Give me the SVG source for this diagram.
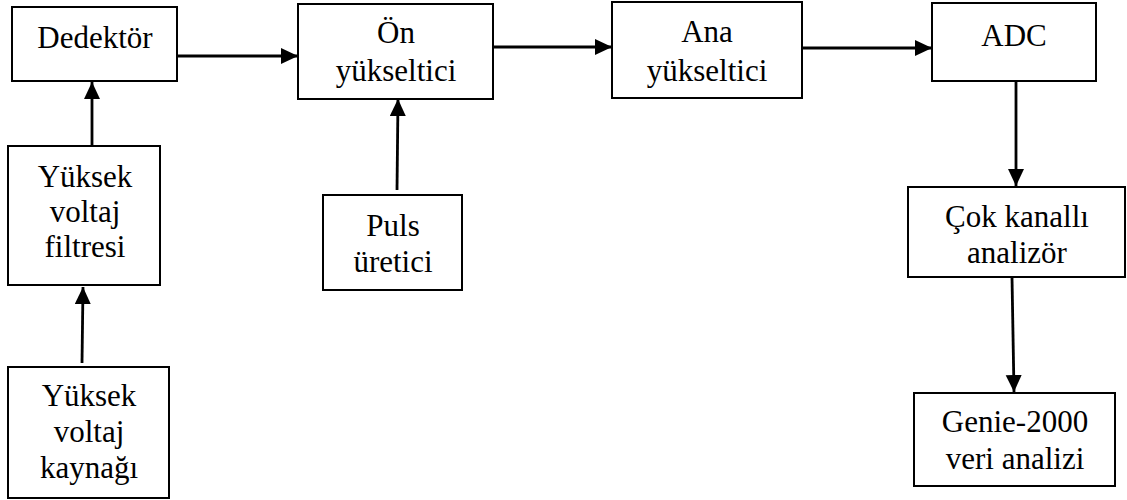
<svg xmlns="http://www.w3.org/2000/svg" width="1127" height="500" viewBox="0 0 1127 500">
<style>
.box{fill:#fff;stroke:#000;stroke-width:2}
.lbl{font-family:"Liberation Serif","Times New Roman",serif;font-size:31px;fill:#000;text-anchor:middle}
.conn{stroke:#000;stroke-width:2.8;fill:none;marker-end:url(#ah)}
</style>
<defs>
<marker id="ah" markerUnits="userSpaceOnUse" markerWidth="19" markerHeight="17" refX="17" refY="8" orient="auto">
<path d="M0,0 L17,8 L0,16 Z" fill="#000"/>
</marker>
</defs>
<rect width="1127" height="500" fill="#fff"/>
<g id="connectors">
<line class="conn" x1="177" y1="56" x2="298" y2="56"/>
<line class="conn" x1="493" y1="47" x2="612" y2="47"/>
<line class="conn" x1="802" y1="48" x2="932" y2="48"/>
<line class="conn" x1="1016" y1="81" x2="1016" y2="186"/>
<line class="conn" x1="1012" y1="277" x2="1014" y2="392"/>
<line class="conn" x1="92" y1="146" x2="92" y2="82"/>
<line class="conn" x1="82" y1="363" x2="83" y2="287"/>
<line class="conn" x1="397" y1="190" x2="398" y2="99"/>
</g>
<g id="dedektor">
<rect class="box" x="12" y="7" width="165" height="74"/>
<text class="lbl" x="95" y="48">Dedektör</text>
</g>
<g id="on-yukseltici">
<rect class="box" x="298" y="4" width="195" height="95"/>
<text class="lbl" x="396" y="43">Ön</text>
<text class="lbl" x="396" y="81">yükseltici</text>
</g>
<g id="ana-yukseltici">
<rect class="box" x="612" y="2" width="190" height="96"/>
<text class="lbl" x="707" y="42">Ana</text>
<text class="lbl" x="707" y="81">yükseltici</text>
</g>
<g id="adc">
<rect class="box" x="932" y="3" width="164" height="78"/>
<text class="lbl" x="1014" y="46">ADC</text>
</g>
<g id="yuksek-voltaj-filtresi">
<rect class="box" x="8" y="146" width="152" height="139"/>
<text class="lbl" x="85" y="187">Yüksek</text>
<text class="lbl" x="85" y="222">voltaj</text>
<text class="lbl" x="85" y="257">filtresi</text>
</g>
<g id="yuksek-voltaj-kaynagi">
<rect class="box" x="8" y="367" width="161" height="131"/>
<text class="lbl" x="89" y="406">Yüksek</text>
<text class="lbl" x="89" y="442">voltaj</text>
<text class="lbl" x="89" y="478">kaynağı</text>
</g>
<g id="puls-uretici">
<rect class="box" x="323" y="195" width="139" height="95"/>
<text class="lbl" x="393" y="236">Puls</text>
<text class="lbl" x="393" y="272">üretici</text>
</g>
<g id="cok-kanalli-analizor">
<rect class="box" x="908" y="187" width="217" height="90"/>
<text class="lbl" x="1017" y="227">Çok kanallı</text>
<text class="lbl" x="1017" y="263">analizör</text>
</g>
<g id="genie-2000">
<rect class="box" x="914" y="393" width="201" height="93"/>
<text class="lbl" x="1015" y="432">Genie-2000</text>
<text class="lbl" x="1015" y="469">veri analizi</text>
</g>
</svg>
